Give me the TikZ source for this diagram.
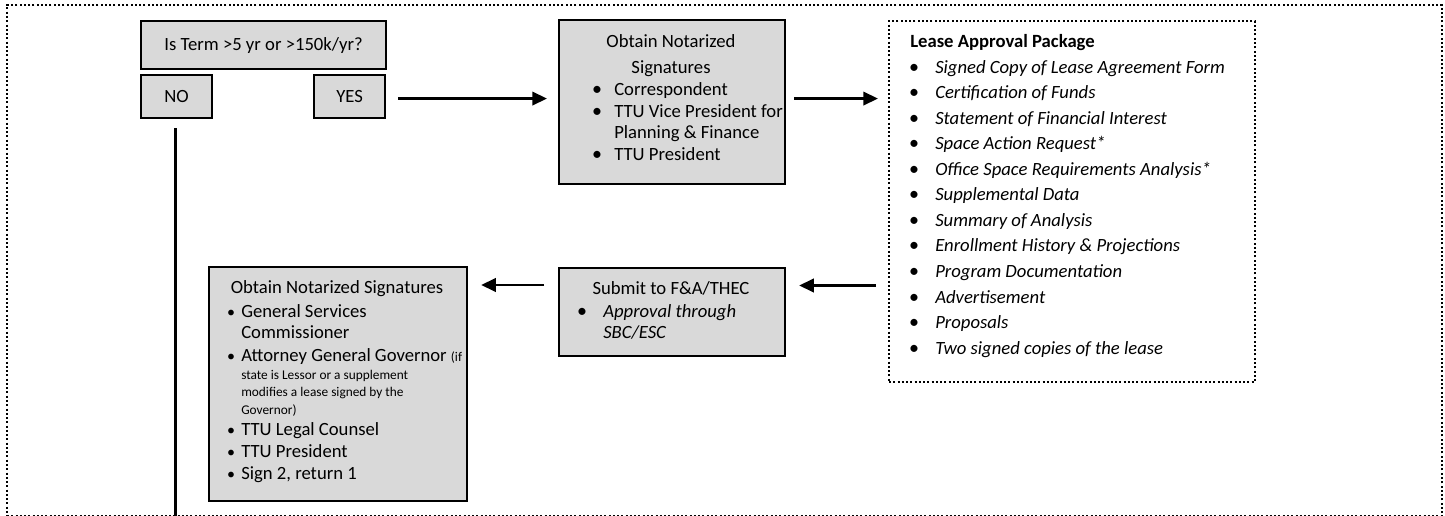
\documentclass[tikz,border=0pt]{standalone}
\usepackage{fontspec}
\setmainfont{Carlito}
\usetikzlibrary{arrows.meta}
\definecolor{boxgray}{RGB}{217,217,217}
\tikzset{
  gbox/.style={draw=black, line width=1.6pt, fill=boxgray, inner sep=0pt, anchor=north west, font=\fontsize{14}{17}\selectfont},
  dotbox/.style={draw=black, line width=1.5pt, dash pattern=on 1.5pt off 1.7pt, inner sep=0pt, anchor=north west},
  txt/.style={anchor=base west, inner sep=0pt, font=\fontsize{14}{17}\selectfont},
  ctxt/.style={txt, anchor=base},
  btxt/.style={txt, font=\fontsize{14}{17}\selectfont\bfseries},
  itxt/.style={txt, font=\fontsize{14}{17}\selectfont\itshape},
  stxt/.style={txt, font=\fontsize{10}{12}\selectfont},
  bul/.style={anchor=base, inner sep=0pt, font=\fontsize{15}{17}\selectfont},
  sbul/.style={anchor=base, inner sep=0pt, font=\fontsize{12}{14}\selectfont},
  arr/.style={line width=1.9pt, -{Triangle[length=11pt,width=10pt]}},
  plain/.style={line width=1.9pt},
}
\begin{document}
\begin{tikzpicture}[x=0.75pt,y=-0.75pt]
\useasboundingbox (0,0) rectangle (1445,516);
% outer frame
\node[dotbox, minimum width=1076.25pt, minimum height=383.25pt] (frame) at (6,4) {};
% question and answers
\node[gbox, minimum width=183.75pt, minimum height=36pt] (q) at (140,20) {Is Term >5 yr or >150k/yr?};
\node[gbox, minimum width=53.25pt, minimum height=32.25pt] (no) at (140,74) {NO};
\node[gbox, minimum width=53.25pt, minimum height=32.25pt] (yes) at (313,74) {YES};
% box 2
\node[gbox, minimum width=169.5pt, minimum height=123pt] (b2) at (558,19) {};
\node[ctxt] (b2t1) at (671,47.5) {Obtain Notarized};
\node[ctxt] (b2t2) at (671,73.5) {Signatures};
\node[bul] (b2b1) at (597,95.5) {•};
\node[txt] (b2l1) at (614,95.5) {Correspondent};
\node[bul] (b2b2) at (597,117.5) {•};
\node[txt] (b2l2) at (614,117.5) {TTU Vice President for};
\node[txt] (b2l3) at (614,138.5) {Planning \& Finance};
\node[bul] (b2b4) at (597,160.5) {•};
\node[txt] (b2l4) at (614,160.5) {TTU President};
% lease approval package
\node[dotbox, minimum width=274.5pt, minimum height=270.75pt] (lease) at (888,20) {};
\node[btxt] (lt) at (910,47.5) {Lease Approval Package};
\foreach \yy/\tt [count=\i] in {
  73.5/{Signed Copy of Lease Agreement Form},
  99/{Certification of Funds},
  124.5/{Statement of Financial Interest},
  150/{Space Action Request*},
  175.5/{Office Space Requirements Analysis*},
  201/{Supplemental Data},
  226.5/{Summary of Analysis},
  252/{Enrollment History \& Projections},
  278/{Program Documentation},
  303.5/{Advertisement},
  329/{Proposals},
  354.5/{Two signed copies of the lease}}{
  \node[bul] (lb\i) at (914,\yy) {•};
  \node[itxt] (li\i) at (935,\yy) {\tt};
}
% submit
\node[gbox, minimum width=169.5pt, minimum height=66pt] (sub) at (558,267) {};
\node[ctxt] (st) at (671,295) {Submit to F\&A/THEC};
\node[bul] (sb) at (582,317.5) {•};
\node[itxt] (s1) at (603,317.5) {Approval through};
\node[itxt] (s2) at (603,339) {SBC/ESC};
% left box
\node[gbox, minimum width=193.5pt, minimum height=175.5pt] (lb) at (208,266) {};
\node[ctxt] (lbt) at (337,293.5) {Obtain Notarized Signatures};
\node[sbul] (lbb1) at (231,317.5) {•};
\node[txt] (lbl1) at (241,317.5) {General Services};
\node[txt] (lbl2) at (241,338.5) {Commissioner};
\node[sbul] (lbb3) at (231,361.5) {•};
\node[txt] (lbl3) at (241,361.5) {Attorney General Governor {\fontsize{10}{12}\selectfont (if}};
\node[stxt] (lbl4) at (241,379) {state is Lessor or a supplement};
\node[stxt] (lbl5) at (241,397) {modifies a lease signed by the};
\node[stxt] (lbl6) at (241,414) {Governor)};
\node[sbul] (lbb7) at (231,435.5) {•};
\node[txt] (lbl7) at (241,435.5) {TTU Legal Counsel};
\node[sbul] (lbb8) at (231,457.5) {•};
\node[txt] (lbl8) at (241,457.5) {TTU President};
\node[sbul] (lbb9) at (231,479.5) {•};
\node[txt] (lbl9) at (241,479.5) {Sign 2, return 1};
% connectors
\draw[arr, shorten <=9pt, shorten >=8.25pt] ([yshift=-1.5]yes.east) -- ([yshift=-1.5]yes.east -| b2.west);
\draw[arr, shorten <=6pt, shorten >=7.5pt] ([yshift=-1.5]yes.east -| b2.east) -- ([yshift=-1.5]yes.east -| lease.west);
\draw[arr, shorten <=9pt, shorten >=9.75pt] (lease.west |- 0,285.5) -- (sub.east |- 0,285.5);
\draw[arr, shorten <=10.5pt, shorten >=9.75pt] (sub.west |- 0,285) -- (lb.east |- 0,285);
\draw[plain, shorten <=6.75pt] ([xshift=-0.75pt]no.south) -- ([xshift=-0.75pt]no.south |- frame.south);
\end{tikzpicture}
\end{document}
